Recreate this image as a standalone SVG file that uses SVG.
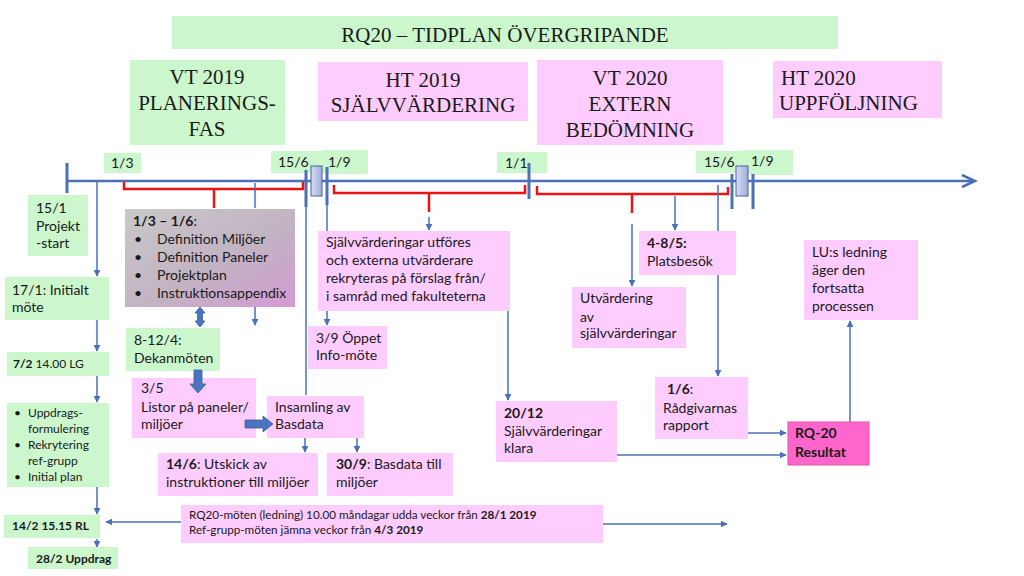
<svg xmlns="http://www.w3.org/2000/svg" width="1024" height="576" viewBox="0 0 1024 576">
<defs>
<style>
.g{fill:#ccf7cc}
.p{fill:#ffccff}
.h{font-family:"Liberation Serif","Times New Roman",serif;font-size:21px;fill:#1a1a1a}
.t{font-family:Lato,"Liberation Sans",sans-serif;font-size:14px;fill:#1a1a1a}
.s{font-family:Lato,"Liberation Sans",sans-serif;font-size:12px;fill:#1a1a1a}
.xs{font-family:Lato,"Liberation Sans",sans-serif;font-size:11.7px;fill:#1a1a1a}
.b{font-weight:bold}
.ln{stroke:#4a70b8;stroke-width:1.5;fill:none}
.tl{stroke:#4a70b8;stroke-width:2.5;fill:none}
.tk{stroke:#4a70b8;stroke-width:3;fill:none}
.rd{stroke:#ee1111;stroke-width:2.5;fill:none}
.blk{fill:#4a74c0;stroke:#3b5f9f;stroke-width:0.8}
</style>
<marker id="a" viewBox="0 0 10 10" refX="9" refY="5" markerWidth="7" markerHeight="7" markerUnits="userSpaceOnUse" orient="auto">
<path d="M0,0 L10,5 L0,10 z" fill="#4a70b8"/>
</marker>
<linearGradient id="gg" x1="0" y1="0" x2="1" y2="1">
<stop offset="0" stop-color="#c9c9c9"/>
<stop offset="0.55" stop-color="#c2b3c2"/>
<stop offset="1" stop-color="#d49bd4"/>
</linearGradient>
<linearGradient id="bg" x1="0" y1="0" x2="1" y2="0">
<stop offset="0" stop-color="#d5dcf2"/>
<stop offset="1" stop-color="#9eaedb"/>
</linearGradient>
</defs>
<rect width="1024" height="576" fill="#ffffff"/>

<g id="title"><rect class="g" x="172" y="16" width="666" height="33"/><text class="h" x="505" y="42" text-anchor="middle">RQ20 – TIDPLAN ÖVERGRIPANDE</text></g>
<g id="vt2019"><rect class="g" x="130" y="60" width="155" height="85"/><text class="h" x="207" y="84" text-anchor="middle">VT 2019</text><text class="h" x="207" y="110" text-anchor="middle">PLANERINGS-</text><text class="h" x="207" y="136" text-anchor="middle">FAS</text></g>
<g id="ht2019"><rect class="p" x="318" y="62" width="210" height="59"/><text class="h" x="423" y="87" text-anchor="middle">HT 2019</text><text class="h" x="423" y="112" text-anchor="middle">SJÄLVVÄRDERING</text></g>
<g id="vt2020"><rect class="p" x="537" y="60" width="186" height="85"/><text class="h" x="630" y="85" text-anchor="middle">VT 2020</text><text class="h" x="630" y="111" text-anchor="middle">EXTERN</text><text class="h" x="630" y="137" text-anchor="middle">BEDÖMNING</text></g>
<g id="ht2020"><rect class="p" x="773" y="61" width="169" height="57"/><text class="h" x="781" y="85">HT 2020</text><text class="h" x="779" y="110">UPPFÖLJNING</text></g>

<g id="date-labels">
<rect class="g" x="104" y="153" width="37" height="20"/><text class="t" x="111" y="168">1/3</text>
<rect class="g" x="271" y="151" width="52" height="22"/><text class="t" x="278" y="167">15/6</text>
<rect class="g" x="323" y="150" width="45" height="24"/><text class="t" x="328" y="167">1/9</text>
<rect class="g" x="497" y="152" width="50" height="21"/><text class="t" x="505" y="168">1/1</text>
<rect class="g" x="696" y="151" width="48" height="22"/><text class="t" x="704" y="167">15/6</text>
<rect class="g" x="743" y="150" width="50" height="25"/><text class="t" x="751" y="166">1/9</text>
</g>

<g id="connectors">
<line class="tl" x1="67" y1="181" x2="973" y2="181"/>
<path d="M962,175 L975,181 L962,187" stroke="#4a70b8" stroke-width="2.5" fill="none"/>
<line class="tk" x1="67" y1="163" x2="67" y2="193"/>
<line class="tk" x1="306" y1="170" x2="306" y2="207"/>
<line class="tk" x1="327" y1="167" x2="327" y2="205"/>
<line class="tk" x1="529" y1="163" x2="529" y2="199"/>
<line class="tk" x1="732" y1="174" x2="732" y2="209"/>
<line class="tk" x1="753" y1="174" x2="753" y2="209"/>
<rect x="311" y="166" width="11" height="30" fill="url(#bg)" stroke="#4a5f9f" stroke-width="1"/>
<rect x="736" y="166" width="12" height="30" fill="url(#bg)" stroke="#4a5f9f" stroke-width="1"/>

<path class="rd" d="M124,182 V189 H303 V182 M214,189 V208"/>
<path class="rd" d="M334,185 V193 H525 V185 M429,193 V212"/>
<path class="rd" d="M537,186 V194 H728 V187 M632,194 V213"/>

<line class="ln" x1="97" y1="181" x2="97" y2="276" marker-end="url(#a)"/>
<line class="ln" x1="255" y1="183" x2="255" y2="208"/>
<line class="ln" x1="255" y1="307" x2="255" y2="325" marker-end="url(#a)"/>
<line class="ln" x1="306" y1="207" x2="306" y2="395"/>
<line class="ln" x1="327" y1="205" x2="327" y2="231"/>
<line class="ln" x1="327" y1="311" x2="327" y2="325" marker-end="url(#a)"/>
<line class="ln" x1="429" y1="217" x2="429" y2="230" marker-end="url(#a)"/>
<line class="ln" x1="508" y1="311" x2="508" y2="400" marker-end="url(#a)"/>
<line class="ln" x1="632" y1="224" x2="632" y2="286" marker-end="url(#a)"/>
<line class="ln" x1="675" y1="196" x2="675" y2="230" marker-end="url(#a)"/>
<line class="ln" x1="718" y1="185" x2="718" y2="231"/>
<line class="ln" x1="718" y1="275" x2="718" y2="376" marker-end="url(#a)"/>

<line class="ln" x1="97" y1="320" x2="97" y2="351" marker-end="url(#a)"/>
<line class="ln" x1="97" y1="376" x2="97" y2="402" marker-end="url(#a)"/>
<line class="ln" x1="97" y1="487" x2="97" y2="514" marker-end="url(#a)"/>
<line class="ln" x1="97" y1="539" x2="97" y2="547" marker-end="url(#a)"/>
<line class="ln" x1="181" y1="522" x2="106" y2="522" marker-end="url(#a)"/>
<line class="ln" x1="603" y1="524" x2="727" y2="524" marker-end="url(#a)"/>

<line class="ln" x1="305" y1="438" x2="305" y2="452" marker-end="url(#a)"/>
<line class="ln" x1="357" y1="438" x2="357" y2="452" marker-end="url(#a)"/>

<line class="ln" x1="617" y1="455" x2="786" y2="455" marker-end="url(#a)"/>
<line class="ln" x1="743" y1="433" x2="786" y2="433" marker-end="url(#a)"/>
<line class="ln" x1="850" y1="422" x2="850" y2="321" marker-end="url(#a)"/>
</g>

<g id="n-projektstart"><rect class="g" x="28" y="195" width="60" height="61"/><text class="t" x="36" y="213">15/1</text><text class="t" x="36" y="231">Projekt</text><text class="t" x="36" y="248">-start</text></g>
<g id="n-initialt"><rect class="g" x="5" y="277" width="104" height="43"/><text class="t" x="12" y="295">17/1: Initialt</text><text class="t" x="12" y="312">möte</text></g>
<g id="n-lg"><rect class="g" x="7" y="352" width="102" height="24"/><text class="s" x="13" y="368"><tspan class="b">7/2</tspan> 14.00 LG</text></g>
<g id="n-uppdrag-list"><rect class="g" x="7" y="403" width="102" height="84"/>
<text class="s" x="14" y="417">•</text><text class="s" x="28" y="417">Uppdrags-</text><text class="s" x="28" y="433">formulering</text>
<text class="s" x="14" y="449">•</text><text class="s" x="28" y="449">Rekrytering</text><text class="s" x="28" y="465">ref-grupp</text>
<text class="s" x="14" y="481">•</text><text class="s" x="28" y="481">Initial plan</text></g>
<g id="n-rl"><rect class="g" x="4" y="515" width="96" height="23"/><text class="s b" x="12" y="530">14/2 15.15 RL</text></g>
<g id="n-uppdrag"><rect class="g" x="28" y="547" width="90" height="22"/><text class="s b" x="36" y="563">28/2 Uppdrag</text></g>

<g id="n-definition"><rect x="125" y="209" width="170" height="98" fill="url(#gg)"/>
<text class="t" x="133" y="226"><tspan class="b">1/3 – 1/6</tspan>:</text>
<text class="t" x="134" y="244">•</text><text class="t" x="157" y="244">Definition Miljöer</text>
<text class="t" x="134" y="262">•</text><text class="t" x="157" y="262">Definition Paneler</text>
<text class="t" x="134" y="280">•</text><text class="t" x="157" y="280">Projektplan</text>
<text class="t" x="134" y="298">•</text><text class="t" x="157" y="298">Instruktionsappendix</text></g>

<g id="n-dekan"><rect class="g" x="126" y="328" width="94" height="43"/><text class="t" x="134" y="345">8-12/4:</text><text class="t" x="134" y="363">Dekanmöten</text></g>
<g id="n-listor"><rect class="p" x="132" y="378" width="124" height="60"/><text class="t" x="141" y="393">3/5</text><text class="t" x="141" y="412">Listor på paneler/</text><text class="t" x="141" y="429">miljöer</text></g>
<g id="n-insamling"><rect class="p" x="267" y="396" width="97" height="42"/><text class="t" x="275" y="412">Insamling av</text><text class="t" x="275" y="429">Basdata</text></g>
<g id="n-utskick"><rect class="p" x="158" y="453" width="160" height="43"/><text class="t" x="166" y="469"><tspan class="b">14/6</tspan>: Utskick av</text><text class="t" x="166" y="487">instruktioner till miljöer</text></g>
<g id="n-basdata"><rect class="p" x="327" y="453" width="126" height="43"/><text class="t" x="336" y="469"><tspan class="b">30/9</tspan>: Basdata till</text><text class="t" x="336" y="487">miljöer</text></g>
<g id="n-moten"><rect class="p" x="181" y="505" width="422" height="38"/><text class="xs" x="189" y="519">RQ20-möten (ledning) 10.00 måndagar udda veckor från <tspan class="b">28/1 2019</tspan></text><text class="xs" x="189" y="534">Ref-grupp-möten jämna veckor från <tspan class="b">4/3 2019</tspan></text></g>

<g id="n-sjalv"><rect class="p" x="318" y="231" width="192" height="80"/><text class="t" x="326" y="247">Självvärderingar utföres</text><text class="t" x="326" y="265">och externa utvärderare</text><text class="t" x="326" y="283">rekryteras på förslag från/</text><text class="t" x="326" y="301">i samråd med fakulteterna</text></g>
<g id="n-info"><rect class="p" x="308" y="326" width="79" height="43"/><text class="t" x="316" y="343">3/9 Öppet</text><text class="t" x="316" y="360">Info-möte</text></g>
<g id="n-klara"><rect class="p" x="496" y="401" width="121" height="61"/><text class="t b" x="504" y="418">20/12</text><text class="t" x="504" y="436">Självvärderingar</text><text class="t" x="504" y="453">klara</text></g>
<g id="n-utv"><rect class="p" x="572" y="287" width="114" height="61"/><text class="t" x="580" y="303">Utvärdering</text><text class="t" x="580" y="322">av</text><text class="t" x="580" y="338">självvärderingar</text></g>
<g id="n-plats"><rect class="p" x="639" y="231" width="97" height="44"/><text class="t b" x="647" y="248">4-8/5:</text><text class="t" x="647" y="266">Platsbesök</text></g>
<g id="n-rad"><rect class="p" x="655" y="377" width="93" height="62"/><text class="t" x="667" y="394"><tspan class="b">1/6</tspan>:</text><text class="t" x="663" y="413">Rådgivarnas</text><text class="t" x="663" y="430">rapport</text></g>
<g id="n-lu"><rect class="p" x="804" y="240" width="114" height="80"/><text class="t" x="812" y="257">LU:s ledning</text><text class="t" x="812" y="275">äger den</text><text class="t" x="812" y="293">fortsatta</text><text class="t" x="812" y="311">processen</text></g>
<g id="n-resultat"><rect x="788" y="422" width="81" height="43" fill="#ff66cc" stroke="#e052b0" stroke-width="1"/><text class="t b" x="795" y="438">RQ-20</text><text class="t b" x="795" y="457">Resultat</text></g>

<g id="block-arrows">
<path class="blk" d="M200,307 L205,313 L202.5,313 L202.5,321 L205,321 L200,327 L195,321 L197.5,321 L197.5,313 L195,313 Z"/>
<path class="blk" d="M194,370 H202 V384 H206 L198,393 L190,384 H194 Z"/>
<path class="blk" d="M245,420 H263 V416 L273,424 L263,432 V428 H245 Z"/>
</g>
</svg>
